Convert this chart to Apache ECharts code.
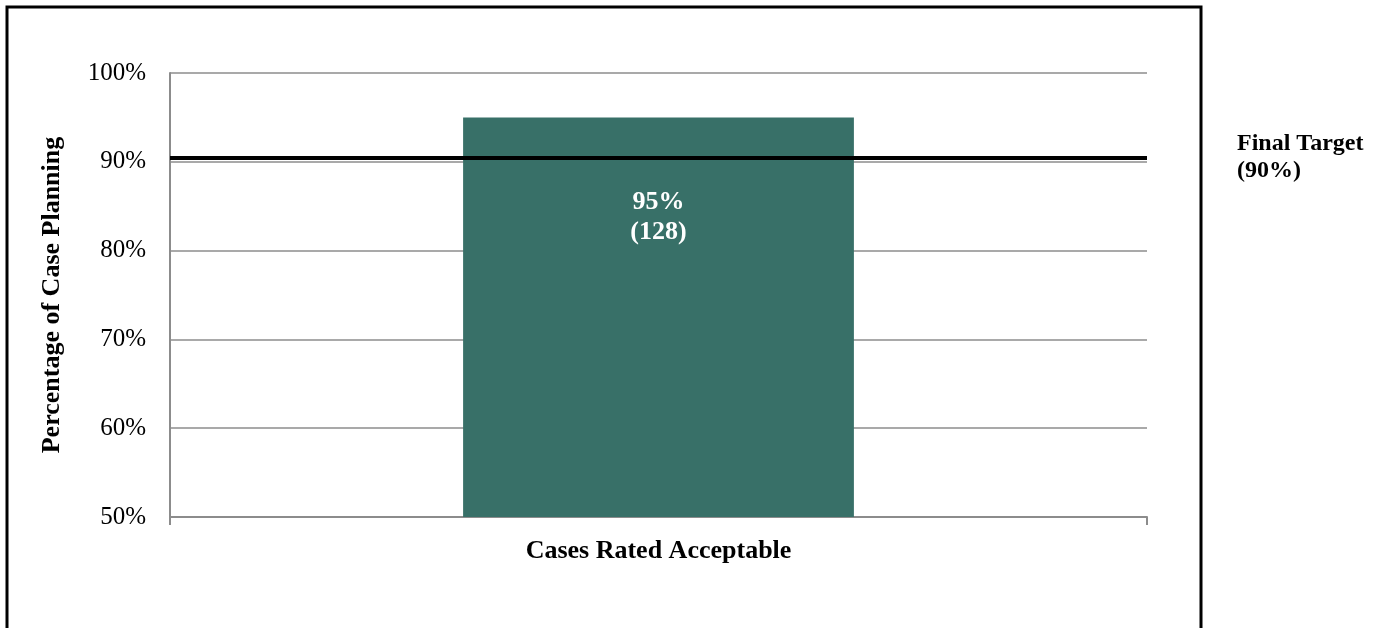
<!DOCTYPE html>
<html>
<head>
<meta charset="utf-8">
<script src="https://cdn.jsdelivr.net/npm/echarts@6/dist/echarts.min.js"></script>
<style>
  html, body { margin: 0; padding: 0; background: #fff; }
  #chart { width: 1384px; height: 628px; }
</style>
</head>
<body>
<div id="chart"></div>
<script>
// chart data
const categories = ['Cases Rated Acceptable'];
const percentValues = [95];
const caseCounts = [128];
const targetValue = 90.5;   // where the target line is drawn
const targetLabel = ['Final Target', '(90%)'];

const serif = '"Liberation Serif", "Times New Roman", serif';
let myChart = echarts.init(document.getElementById('chart'));

let option = {
  animation: false,
  backgroundColor: '#fff',
  grid: { left: 170, right: 237, top: 73, bottom: 111 },
  xAxis: {
    type: 'category',
    data: categories,
    axisLine: { lineStyle: { color: '#8c8c8c', width: 2 } },
    axisTick: { show: true, alignWithLabel: false, length: 8, lineStyle: { color: '#8c8c8c', width: 2 } },
    axisLabel: { color: '#000', fontFamily: serif, fontWeight: 'bold', fontSize: 26, margin: 21 }
  },
  yAxis: {
    type: 'value',
    min: 50,
    max: 100,
    interval: 10,
    name: 'Percentage of Case Planning',
    nameLocation: 'middle',
    nameGap: 105,
    nameTextStyle: { color: '#000', fontFamily: serif, fontWeight: 'bold', fontSize: 26 },
    axisLine: { show: true, lineStyle: { color: '#8c8c8c', width: 2 } },
    axisTick: { show: false },
    splitLine: { lineStyle: { color: '#8c8c8c', width: 1.5 } },
    axisLabel: {
      color: '#000', fontFamily: serif, fontSize: 25, margin: 24,
      formatter: v => v + '%'
    }
  },
  series: [
    {
      type: 'bar',
      data: percentValues,
      barWidth: '40%',
      itemStyle: { color: '#387068' },
      label: {
        show: true,
        position: 'insideTop',
        distance: 70,
        color: '#fff',
        fontFamily: serif,
        fontWeight: 'bold',
        fontSize: 26,
        lineHeight: 30,
        formatter: p => p.value + '%\n(' + caseCounts[p.dataIndex] + ')'
      },
      markLine: {
        silent: true,
        symbol: 'none',
        label: { show: false },
        lineStyle: { color: '#000', width: 4, type: 'solid' },
        data: [{ yAxis: targetValue }]
      }
    }
  ],
  graphic: [
    {
      type: 'rect',
      shape: { x: 7, y: 7, width: 1194, height: 700 },
      style: { fill: 'none', stroke: '#000', lineWidth: 3 }
    },
    {
      type: 'text',
      left: 1237,
      top: 130,
      style: {
        text: targetLabel.join('\n'),
        fill: '#000',
        font: 'bold 24px ' + serif,
        lineHeight: 27
      }
    }
  ]
};

myChart.setOption(option);
</script>
</body>
</html>
